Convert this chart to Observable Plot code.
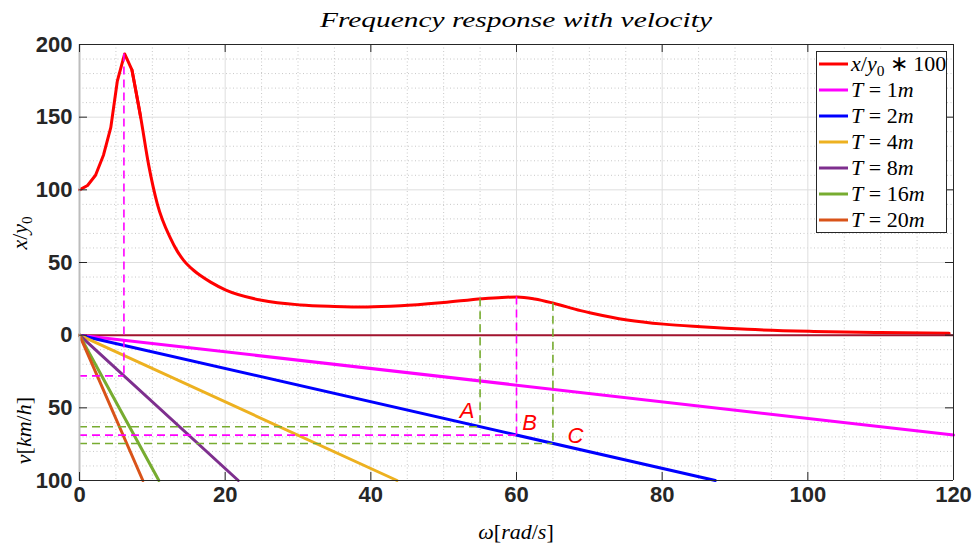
<!DOCTYPE html>
<html><head><meta charset="utf-8">
<script src="https://cdn.jsdelivr.net/npm/d3@7"></script>
<script src="https://cdn.jsdelivr.net/npm/@observablehq/plot@0.6"></script>
<style>body{margin:0;background:#fff} #chart{width:975px;height:544px}</style>
</head><body><div id="chart"></div>
<script>
// ---- data ----
const omega    = [0, 1.1, 2.2, 3.3, 4.3, 5.2, 6.2, 7.2, 8.4, 9.5, 10.7, 12.5, 13.4, 14.3, 15.7, 16.6, 18, 20.1, 25, 30.3, 35, 39.5, 44.1, 50, 55.3, 58, 60.1, 62.5, 65.1, 68.8, 70.2, 75.2, 80.2, 85.3, 91.7, 100.8, 110, 119.4];
const response = [100, 103, 110, 124, 143, 175, 193.5, 182.5, 150, 117, 90, 66.6, 58, 51.5, 44.5, 41, 36.5, 31, 24, 20.8, 19.8, 19.4, 20.2, 22.5, 25.1, 26, 26.3, 24.9, 22, 16.9, 15.3, 10.5, 7.6, 5.8, 4.0, 2.6, 1.8, 1.4];

const seriesLabels = ["T = 1m", "T = 2m", "T = 4m", "T = 8m", "T = 16m", "T = 20m"];
const wavelengthT  = ["1", "2", "4", "8", "16", "20"];
const lineEndOmega = [120, 87.3, 43.6, 21.8, 10.9, 8.7];
const lineEndV     = [68.75, 100, 100, 100, 100, 100];
const seriesColors = ["#FF00FF", "#0000FF", "#EDB120", "#7E2F8E", "#77AC30", "#D95319"];

const markerOmega    = [6.1, 55, 60, 65];
const markerResponse = [193.5, 25.1, 26.3, 22];
const markerV        = [28, 63, 68.75, 74.5];
const markerColors   = ["#FF00FF", "#77AC30", "#FF00FF", "#77AC30"];

const pointLabels     = ["A", "B", "C"];
const pointLabelOmega = [53.2, 61.8, 68.1];
const pointLabelV     = [52, 60.7, 69.4];

const xTicks = [0, 20, 40, 60, 80, 100, 120];
const yTicks = [-100, -50, 0, 50, 100, 150, 200];
const xMinor = [5, 10, 15, 25, 30, 35, 45, 50, 55, 65, 70, 75, 85, 90, 95, 105, 110, 115];
const yMinor = [-90, -80, -70, -60, -40, -30, -20, -10, 10, 20, 30, 40, 60, 70, 80, 90, 110, 120, 130, 140, 160, 170, 180, 190];

// ---- tables built from the arrays ----
const curve = omega.map((w, i) => ({w, r: response[i]}));
const curveHead = curve.filter(d => d.w <= 8.4);   // sparse, kinked part around the peak
const curveTail = curve.filter(d => d.w >= 7.2);   // smooth decay
const tLines = seriesLabels.flatMap((s, i) => [
  {s, w: 0, y: 0},
  {s, w: lineEndOmega[i], y: -lineEndV[i]}
]);
const markers = markerOmega.map((w, i) => ({w, top: markerResponse[i], v: -markerV[i], c: markerColors[i]}));
const labels = pointLabels.map((t, i) => ({t, w: pointLabelOmega[i], v: -pointLabelV[i]}));

const ink = "#262626";
const W = 975, H = 544;
const chart = Plot.plot({
  width: W, height: H,
  marginLeft: 79, marginRight: 22, marginTop: 44, marginBottom: 64,
  style: {background: "#fff", overflow: "visible", fontFamily: "'Liberation Sans', Arial, sans-serif"},
  x: {domain: [0, 120], axis: null},
  y: {domain: [-100, 200], axis: null},
  color: {domain: seriesLabels, range: seriesColors},
  marks: [
    Plot.ruleX(xMinor, {stroke: "#c8c8c8", strokeDasharray: "1,2.5", strokeWidth: 1}),
    Plot.ruleY(yMinor, {stroke: "#c8c8c8", strokeDasharray: "1,2.5", strokeWidth: 1}),
    Plot.ruleX(xTicks, {stroke: "#dedede", strokeWidth: 1}),
    Plot.ruleY(yTicks, {stroke: "#dedede", strokeWidth: 1}),
    Plot.line(curveHead, {x: "w", y: "r", stroke: "#FF0000", strokeWidth: 3}),
    Plot.line(curveTail, {x: "w", y: "r", stroke: "#FF0000", strokeWidth: 3, curve: "monotone-x"}),
    Plot.ruleY([0], {x1: 0, x2: 120, stroke: "#A2142F", strokeWidth: 2}),
    Plot.line(tLines, {x: "w", y: "y", z: "s", stroke: "s", strokeWidth: 3}),
    Plot.ruleX(markers, {x: "w", y1: "top", y2: "v", stroke: "c", strokeWidth: 1.6, strokeDasharray: "8,5"}),
    Plot.ruleY(markers, {y: "v", x1: 0, x2: "w", stroke: "c", strokeWidth: 1.6, strokeDasharray: "8,5"}),
    Plot.text(labels, {x: "w", y: "v", text: "t", fill: "#FF0000", fontSize: 22, fontStyle: "italic"}),
    // axis box
    Plot.ruleX([0], {stroke: "#bdbdbd", strokeWidth: 2}),
    Plot.ruleX([120], {stroke: ink, strokeWidth: 1}),
    Plot.ruleY([-100], {stroke: ink, strokeWidth: 1}),
    Plot.ruleY([200], {stroke: ink, strokeWidth: 1}),
    // inward ticks
    Plot.tickX(xTicks, {x: d => d, insetTop: 428, stroke: ink}),
    Plot.tickX(xTicks, {x: d => d, insetBottom: 428, stroke: ink}),
    Plot.tickY(yTicks, {y: d => d, insetRight: 866, stroke: ink}),
    Plot.tickY(yTicks, {y: d => d, insetLeft: 866, stroke: ink}),
    // tick labels
    Plot.text(yTicks, {y: d => d, text: d => String(Math.abs(d)), frameAnchor: "left", textAnchor: "end", dx: -7, fontSize: 22, fontWeight: "bold", fill: ink}),
    Plot.text(xTicks, {x: d => d, text: d => String(d), frameAnchor: "bottom", dy: 21, fontSize: 22, fontWeight: "bold", fill: ink})
  ]
});
document.getElementById("chart").appendChild(chart);

// ---- titles, axis labels and legend (math-style serif italic) ----
const svg = d3.select(chart);
const xs = chart.scale("x"), ys = chart.scale("y");
const serif = "'Liberation Serif', 'Times New Roman', serif";
const g = svg.append("g").attr("font-family", serif).attr("fill", "#000");

function mathText(sel, parts, size) {
  for (const p of parts) {
    const t = sel.append("tspan").text(p.t);
    if (p.i) t.attr("font-style", "italic");
    if (p.sub) t.attr("font-size", size * 0.7).attr("dy", size * 0.22);
    if (p.up) t.attr("dy", -size * 0.22);
  }
}

const frameMidX = (xs.apply(0) + xs.apply(120)) / 2;
g.append("text").attr("x", frameMidX).attr("y", 27).attr("text-anchor", "middle")
  .attr("font-size", 21).attr("font-style", "italic")
  .attr("textLength", 392).attr("lengthAdjust", "spacingAndGlyphs")
  .text("Frequency response with velocity");

const xl = g.append("text").attr("x", frameMidX).attr("y", 539).attr("text-anchor", "middle")
  .attr("font-size", 22);
mathText(xl, [{t: "ω", i: 1}, {t: "["}, {t: "rad", i: 1}, {t: "/"}, {t: "s", i: 1}, {t: "]"}], 22);

const yl1 = g.append("text").attr("transform", `translate(27,${ys.apply(70)}) rotate(-90)`).attr("text-anchor", "middle").attr("font-size", 22);
mathText(yl1, [{t: "x", i: 1}, {t: "/"}, {t: "y", i: 1}, {t: "0", sub: 1}], 22);

const yl2 = g.append("text").attr("transform", `translate(31,${ys.apply(-66)}) rotate(-90)`).attr("text-anchor", "middle").attr("font-size", 22);
mathText(yl2, [{t: "v", i: 1}, {t: "["}, {t: "km", i: 1}, {t: "/"}, {t: "h", i: 1}, {t: "]"}], 22);

// legend
const lg = g.append("g").attr("text-anchor", "start");
lg.append("rect").attr("x", 816.5).attr("y", 51.5).attr("width", 130).attr("height", 181)
  .attr("fill", "#fff").attr("stroke", ink).attr("stroke-width", 1);
const legendEntries = [{color: "#FF0000", parts: [{t: "x", i: 1}, {t: "/"}, {t: "y", i: 1}, {t: "0", sub: 1}, {t: " ∗ 100", up: 1}]}]
  .concat(seriesLabels.map((s, i) => ({color: seriesColors[i], parts: [{t: "T", i: 1}, {t: " = " + wavelengthT[i]}, {t: "m", i: 1}]})));
legendEntries.forEach((e, i) => {
  const cy = 64 + i * 26;
  lg.append("line").attr("x1", 819).attr("x2", 848).attr("y1", cy).attr("y2", cy)
    .attr("stroke", e.color).attr("stroke-width", 3);
  const t = lg.append("text").attr("x", 851).attr("y", cy + 7).attr("font-size", 22).attr("text-anchor", "start");
  mathText(t, e.parts, 22);
});
</script></body></html>
